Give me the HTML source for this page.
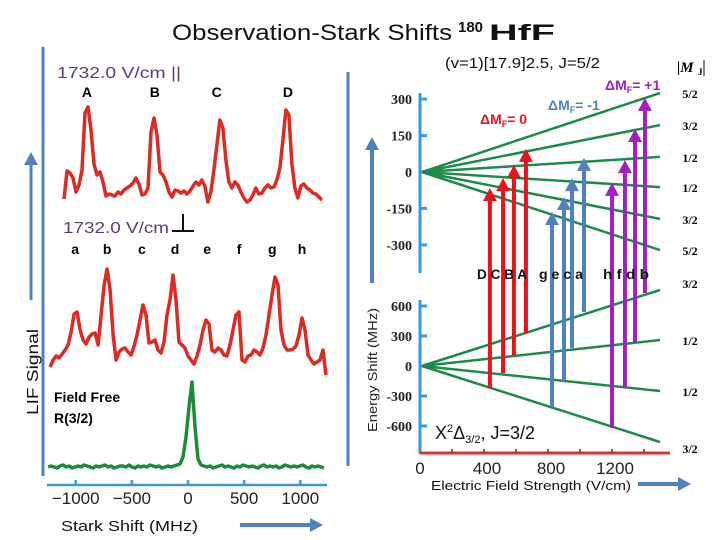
<!DOCTYPE html>
<html><head><meta charset="utf-8">
<style>
html,body{margin:0;padding:0;background:#fff;}
svg{display:block;font-family:"Liberation Sans",sans-serif;}
.serif{font-family:"Liberation Serif",serif;font-weight:bold;}
</style></head>
<body>
<svg id="chart" width="720" height="540" viewBox="0 0 720 540">
<text x="172" y="40" font-size="22" fill="#111"><tspan textLength="280" lengthAdjust="spacingAndGlyphs">Observation-Stark Shifts</tspan><tspan x="458" y="32" font-size="15" font-weight="bold">180</tspan><tspan x="489" y="40" font-weight="bold" textLength="66" lengthAdjust="spacingAndGlyphs">HfF</tspan></text>
<g id="left"></g>
<g id="right"></g>
</svg>
<script>
// ---- Spectra data (LIF signal vs Stark shift, MHz) ----
const parStart = -1104, parStep = 26.7;
const parSignal = [1,29,27,22,8,15,30,87,93,70,36,25,28,18,4,6,5,4,8,6,10,12,14,17,22,16,5,6,12,68,82,65,28,25,18,8,3,10,9,7,9,6,9,14,18,15,20,14,-2,8,30,55,80,72,40,18,12,18,15,8,2,-2,0,5,12,6,7,12,15,12,13,20,32,60,90,85,36,12,2,14,16,12,10,7,6,3,0];
const perpStart = -1228, perpStep = 26.7;
const perpSignal = [3,10,14,12,16,20,25,38,56,58,40,30,26,33,36,37,25,55,85,101,80,35,10,18,21,22,18,15,24,35,50,65,55,27,28,30,20,17,28,55,70,95,70,28,25,22,14,10,6,14,25,40,50,46,20,18,22,20,15,14,25,40,55,58,10,8,14,15,20,18,15,22,35,55,75,93,85,40,25,20,20,21,24,35,52,40,15,10,6,8,10,20,-5];
const freeStart = -1246, freeStep = 26.7;
const freeSignal = [0,1,0,-1,1,2,0,1,-1,0,1,0,2,1,0,-1,1,0,1,2,0,1,-1,0,1,1,0,2,0,-1,1,0,1,0,2,1,0,1,-1,0,1,0,1,2,3,10,30,60,85,40,8,2,1,0,1,-1,0,1,2,0,1,0,-1,1,0,2,1,0,1,0,-1,1,2,0,1,0,1,-1,0,2,1,0,1,0,1,2,0,-1,1,0,1,0,-1];
const starkTicks = [-1000,-500,0,500,1000];
const topLetters = ['A','B','C','D'];
const topLetterShift = [-900,-295,255,890];
const perpLetters = ['a','b','c','d','e','f','g','h'];
const perpLetterShift = [-1005,-720,-410,-115,170,455,750,1015];

// ---- Energy diagram data ----
const fieldTicks = [0,400,800,1200];
const upperTicks = [300,150,0,-150,-300];
const lowerTicks = [600,300,0,-300,-600];
const upperSlopes = [325,193,62,-62,-193,-321];   // MHz at 1500 V/cm
const upperLabels = ['5/2','3/2','1/2','1/2','3/2','5/2'];
const lowerSlopes = [760,260,-250,-760];
const lowerLabels = ['3/2','1/2','1/2','3/2'];
const arrowNames = ['D','C','B','A','g','e','c','a','h','f','d','b'];
const arrowGroup = [0,0,0,0,1,1,1,1,2,2,2,2];
const arrowField = [437,519,587,662,825,900,950,1025,1200,1281,1344,1406];
const arrowUpperE = [-66,-25,29,95,-165,-103,-25,58,-45,49,177,305];
const arrowLowerE = [-220,-70,110,330,-410,-150,180,540,-620,-210,240,730];

const NS='http://www.w3.org/2000/svg';
function mk(parent,tag,attrs,text){const e=document.createElementNS(NS,tag);for(const k in attrs)e.setAttribute(k,attrs[k]);if(text!==undefined)e.textContent=text;parent.appendChild(e);return e;}
const L=document.getElementById('left'), R=document.getElementById('right');

const sx = v => 188 + v*0.1123;
const fx = f => 420 + f*0.16;
const uy = e => 172 - e*0.243;
const ly = e => 366 - e*0.1;

let e;
e=mk(L,'line',{x1:43,y1:47,x2:43,y2:476,stroke:'#4f81bd','stroke-width':3});


e=mk(L,'line',{x1:348,y1:72,x2:348,y2:466,stroke:'#4f81bd','stroke-width':3});


e=mk(L,'line',{x1:31,y1:300,x2:31,y2:162,stroke:'#4f81bd','stroke-width':3});


e=mk(L,'polygon',{points:'24,165 31,152 38,165',fill:'#4f81bd'});


e=mk(L,'text',{x:0,y:0,'font-size':16,fill:'#111','text-anchor':'middle',textLength:86,lengthAdjust:'spacingAndGlyphs',transform:'translate(38,372) rotate(-90)'},'LIF Signal');



e=mk(L,'line',{x1:47,y1:485,x2:327,y2:485,stroke:'#3a9ad9','stroke-width':2.5});


starkTicks.forEach((t,i)=>{
  e=mk(L,'line',{x1:sx(t),y1:480,x2:sx(t),y2:485,stroke:'#3a9ad9','stroke-width':2.5});
  
  
  e=mk(L,'text',{x:sx(t),y:504,'font-size':17,'text-anchor':'middle',fill:'#222'},String(t).replace('-','\u2212'));
  
  
});
e=mk(L,'text',{x:61,y:531,'font-size':15,fill:'#111',textLength:137,lengthAdjust:'spacingAndGlyphs'},'Stark Shift (MHz)');


e=mk(L,'line',{x1:240,y1:525,x2:312,y2:525,stroke:'#4f81bd','stroke-width':4});


e=mk(L,'polygon',{points:'310,518 323,525 310,532',fill:'#4f81bd'});



function trace(start,step,sig,y0,color,name){
  const pts=sig.map((v,i)=>sx(start+i*step).toFixed(1)+','+(y0-v).toFixed(1)).join(' ');
  const p=mk(L,'polyline',{points:pts,fill:'none',stroke:color,'stroke-width':3.5,'stroke-linejoin':'round'});
  
  
}
trace(parStart,parStep,parSignal,200,'#dd2a22','parallel-field-trace');
trace(perpStart,perpStep,perpSignal,370,'#dd2a22','perpendicular-field-trace');
trace(freeStart,freeStep,freeSignal,467,'#1e8a3c','field-free-trace');

e=mk(L,'text',{x:57,y:78,'font-size':16,fill:'#5b3a7a',textLength:124,lengthAdjust:'spacingAndGlyphs'},'1732.0 V/cm ||');


e=mk(L,'text',{x:63,y:233,'font-size':16,fill:'#5b3a7a',textLength:106,lengthAdjust:'spacingAndGlyphs'},'1732.0 V/cm');


e=mk(L,'path',{d:'M172,231 H194 M183,231 V214',stroke:'#111','stroke-width':2,fill:'none'});


topLetters.forEach((t,i)=>{
  e=mk(L,'text',{x:sx(topLetterShift[i]),y:97,'font-size':14,'font-weight':'bold','text-anchor':'middle'},t);
  
  
});
perpLetters.forEach((t,i)=>{
  e=mk(L,'text',{x:sx(perpLetterShift[i]),y:254,'font-size':14,'font-weight':'bold','text-anchor':'middle'},t);
  
  
});
e=mk(L,'text',{x:54,y:402,'font-size':14,'font-weight':'bold'},'Field Free');


e=mk(L,'text',{x:54,y:423,'font-size':14,'font-weight':'bold'},'R(3/2)');



// ---- right panel ----
e=mk(R,'text',{x:445,y:68,'font-size':15,fill:'#111',textLength:155,lengthAdjust:'spacingAndGlyphs'},'(v=1)[17.9]2.5, J=5/2');


e=mk(R,'text',{x:677,y:72,'font-size':15,'font-style':'italic',class:'serif'},'|M');


e=mk(R,'text',{x:698,y:75,'font-size':9,class:'serif'},'J');


e=mk(R,'line',{x1:704,y1:60,x2:704,y2:76,stroke:'#111','stroke-width':1});



e=mk(R,'line',{x1:372,y1:283,x2:372,y2:148,stroke:'#4f81bd','stroke-width':4});


e=mk(R,'polygon',{points:'365,150 372,137 379,150',fill:'#4f81bd'});


e=mk(R,'text',{x:0,y:0,'font-size':13,fill:'#222','text-anchor':'middle',textLength:124,lengthAdjust:'spacingAndGlyphs',transform:'translate(377,370) rotate(-90)'},'Energy Shift (MHz)');



e=mk(R,'line',{x1:420,y1:93,x2:420,y2:273,stroke:'#3a9ad9','stroke-width':3});


upperTicks.forEach(t=>{
  e=mk(R,'line',{x1:420,y1:uy(t),x2:427,y2:uy(t),stroke:'#3a9ad9','stroke-width':3});
  
  
  e=mk(R,'text',{x:412,y:uy(t)+5,'font-size':14,'text-anchor':'end',class:'serif',fill:'#222'},t);
  
  
});
e=mk(R,'line',{x1:420,y1:300,x2:420,y2:454,stroke:'#3a9ad9','stroke-width':3});


lowerTicks.forEach(t=>{
  e=mk(R,'line',{x1:420,y1:ly(t),x2:427,y2:ly(t),stroke:'#3a9ad9','stroke-width':3});
  
  
  e=mk(R,'text',{x:412,y:ly(t)+5,'font-size':14,'text-anchor':'end',class:'serif',fill:'#222'},t);
  
  
});
e=mk(R,'line',{x1:420,y1:453,x2:670,y2:453,stroke:'#d9352e','stroke-width':3});


for(let f=200;f<=1400;f+=200){
  e=mk(R,'line',{x1:fx(f),y1:449,x2:fx(f),y2:453,stroke:'#d9352e','stroke-width':2});
  
  
}
fieldTicks.forEach(t=>{
  e=mk(R,'text',{x:fx(t)+(t===0?0:3),y:474,'font-size':17,'text-anchor':'middle',fill:'#222'},t);
  
  
});
e=mk(R,'text',{x:431,y:490,'font-size':13,fill:'#111',textLength:200,lengthAdjust:'spacingAndGlyphs'},'Electric Field Strength (V/cm)');


e=mk(R,'line',{x1:638,y1:484,x2:680,y2:484,stroke:'#4f81bd','stroke-width':4});


e=mk(R,'polygon',{points:'678,477 691,484 678,491',fill:'#4f81bd'});



upperSlopes.forEach((s,i)=>{
  e=mk(R,'line',{x1:fx(0)+2,y1:uy(0),x2:fx(1500),y2:uy(s),stroke:'#1e8a4a','stroke-width':2.5});
  
  
  e=mk(R,'text',{x:690,y:uy(s)+5,'font-size':12,'text-anchor':'middle',class:'serif'},upperLabels[i]);
  
  
});
lowerSlopes.forEach((s,i)=>{
  e=mk(R,'line',{x1:fx(0)+2,y1:ly(0),x2:fx(1500),y2:ly(s),stroke:'#1e8a4a','stroke-width':2.5});
  
  
  e=mk(R,'text',{x:690,y:ly(s)+(i===0?-2:5)+(i===3?6:0),'font-size':12,'text-anchor':'middle',class:'serif'},lowerLabels[i]);
  
  
});

const groupColors=['#e8141c','#4f81bd','#a020c0'];
arrowField.forEach((f,i)=>{
  const x=fx(f), top=uy(arrowUpperE[i]), bot=ly(arrowLowerE[i]), c=groupColors[arrowGroup[i]];
  e=mk(R,'line',{x1:x,y1:bot,x2:x,y2:top+10,stroke:c,'stroke-width':4});
  
  
  e=mk(R,'polygon',{points:(x-7)+','+(top+13)+' '+x+','+top+' '+(x+7)+','+(top+13),fill:c});
  
  
});
[['D C B A',477,50],['g e c a',539,44],['h f d b',603,46]].forEach(a=>{
  e=mk(R,'text',{x:a[1],y:279,'font-size':14,'font-weight':'bold',fill:'#111',textLength:a[2],lengthAdjust:'spacingAndGlyphs'},a[0]);
  
  
});
e=mk(R,'text',{x:480,y:124,'font-size':14,'font-weight':'bold',fill:'#e8141c'},'\u0394M');


mk(e,'tspan',{'font-size':9,dy:3},'F');
mk(e,'tspan',{dy:-3},'=  0');
e=mk(R,'text',{x:548,y:110,'font-size':14,'font-weight':'bold',fill:'#4f81bd'},'\u0394M');


mk(e,'tspan',{'font-size':9,dy:3},'F');
mk(e,'tspan',{dy:-3},'=  -1');
e=mk(R,'text',{x:605,y:90,'font-size':14,'font-weight':'bold',fill:'#a020c0'},'\u0394M');


mk(e,'tspan',{'font-size':9,dy:3},'F');
mk(e,'tspan',{dy:-3},'=  +1');
e=mk(R,'text',{x:435,y:439,'font-size':18,fill:'#111'},'X');


mk(e,'tspan',{'font-size':11,dy:-7},'2');
mk(e,'tspan',{dy:7},'\u0394');
mk(e,'tspan',{'font-size':11,dy:4},'3/2');
mk(e,'tspan',{dy:-4},', J=3/2');
</script>
</body></html>
